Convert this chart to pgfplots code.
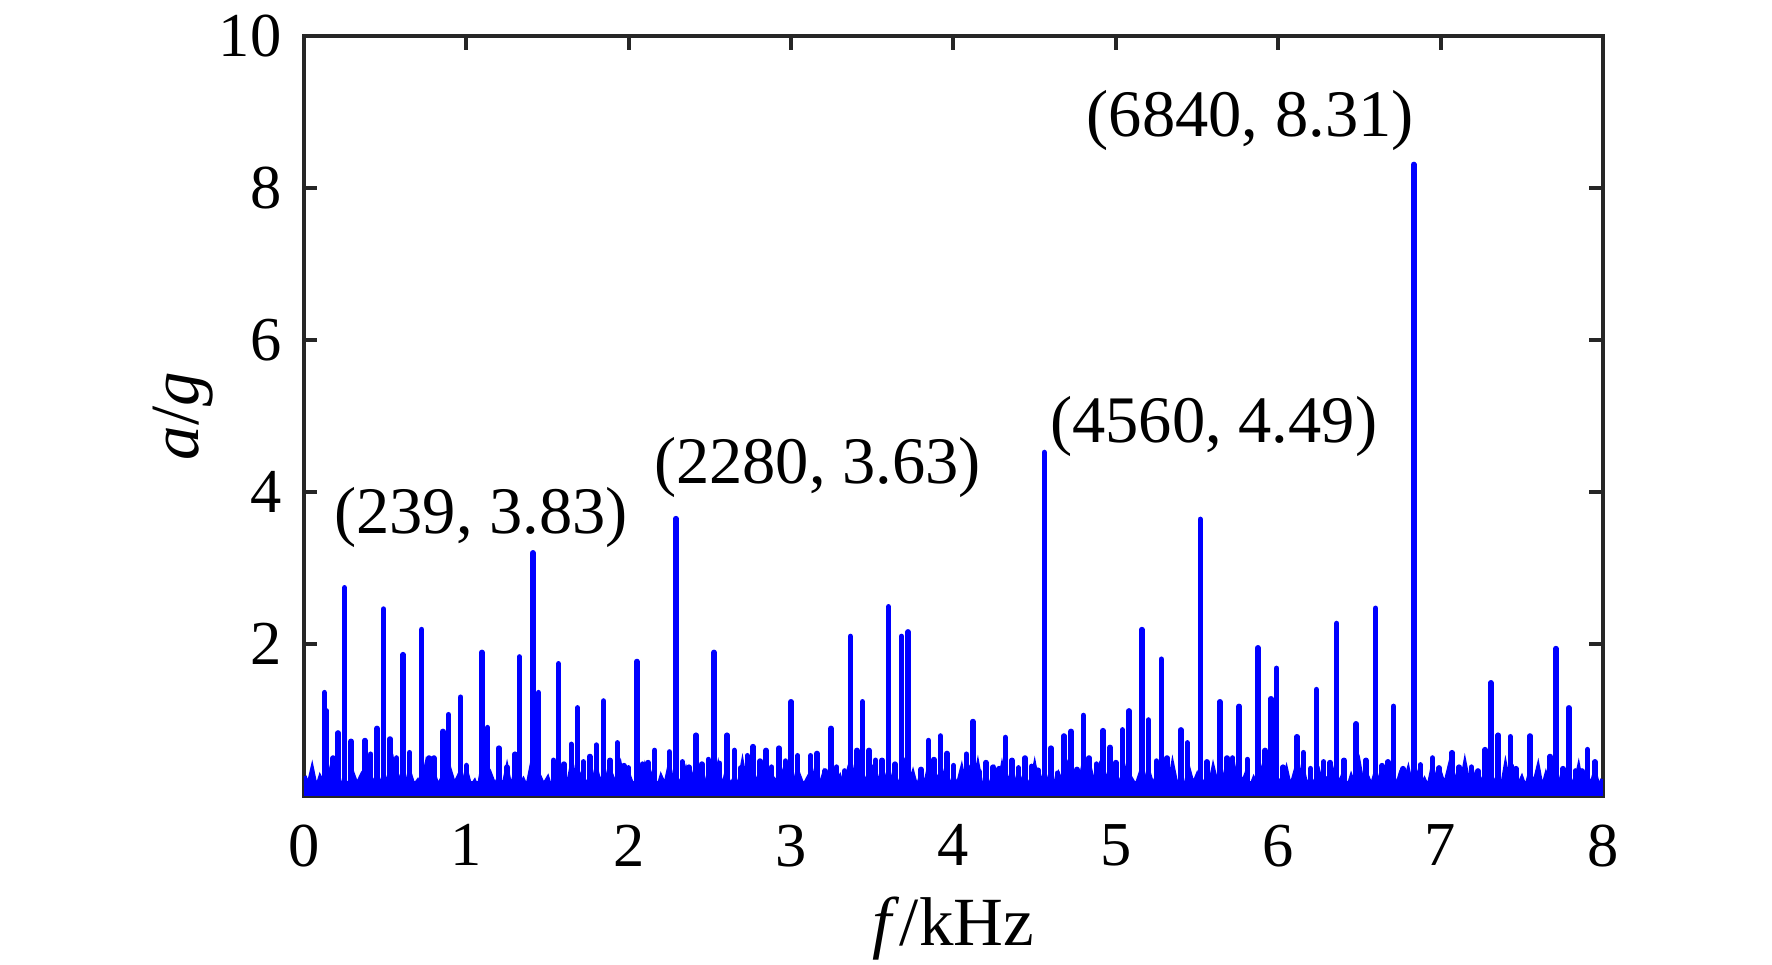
\documentclass[border=0pt]{standalone}
\usepackage{pgfplots}
\pgfplotsset{compat=1.18}
\usepackage{pgfplotstable}
\usepackage{fontspec}
\setmainfont{Liberation Serif}
\definecolor{axgray}{RGB}{38,38,38}

\pgfplotstableread[row sep=\\]{
y\\
0.26\\ 0.08\\ 0.31\\ 0.05\\ 0.22\\ 0.11\\ 0.29\\ 0.04\\ 0.34\\ 0.09\\ 0.19\\ 0.06\\ 0.27\\ 0.12\\ 0.23\\ 0.03\\ 0.32\\ 0.08\\ 0.25\\ 0.10\\
0.20\\ 0.05\\ 0.36\\ 0.09\\ 0.24\\ 0.04\\ 0.28\\ 0.11\\ 0.18\\ 0.07\\ 0.33\\ 0.03\\ 0.26\\ 0.10\\ 0.21\\ 0.06\\ 0.30\\ 0.12\\ 0.23\\ 0.05\\
0.29\\ 0.09\\ 0.17\\ 0.04\\ 0.35\\ 0.08\\ 0.25\\ 0.11\\ 0.22\\ 0.06\\ 0.31\\ 0.03\\ 0.27\\ 0.10\\ 0.19\\ 0.07\\ 0.34\\ 0.05\\ 0.24\\ 0.12\\
0.21\\ 0.04\\ 0.30\\ 0.08\\ 0.26\\ 0.10\\ 0.37\\ 0.05\\ 0.23\\ 0.09\\ 0.18\\ 0.06\\ 0.32\\ 0.11\\ 0.28\\ 0.03\\ 0.22\\ 0.08\\ 0.33\\ 0.07\\
0.25\\ 0.11\\ 0.19\\ 0.05\\ 0.31\\ 0.09\\ 0.27\\ 0.03\\ 0.22\\ 0.10\\ 0.35\\ 0.06\\ 0.20\\ 0.12\\ 0.29\\ 0.04\\ 0.24\\ 0.08\\ 0.30\\ 0.06\\
0.18\\ 0.09\\ 0.33\\ 0.04\\ 0.26\\ 0.11\\ 0.21\\ 0.07\\ 0.36\\ 0.05\\ 0.28\\ 0.10\\ 0.23\\ 0.03\\ 0.31\\ 0.08\\ 0.19\\ 0.12\\ 0.27\\ 0.05\\
0.32\\ 0.07\\ 0.24\\ 0.10\\ 0.20\\ 0.04\\ 0.29\\ 0.09\\ 0.25\\ 0.06\\ 0.34\\ 0.11\\ 0.22\\ 0.05\\ 0.27\\ 0.08\\ 0.37\\ 0.03\\ 0.21\\ 0.10\\
0.28\\ 0.05\\ 0.23\\ 0.12\\ 0.30\\ 0.07\\ 0.18\\ 0.04\\ 0.33\\ 0.09\\ 0.26\\ 0.06\\ 0.24\\ 0.11\\ 0.35\\ 0.03\\ 0.20\\ 0.08\\ 0.29\\ 0.06\\
0.22\\ 0.10\\ 0.31\\ 0.04\\ 0.27\\ 0.08\\ 0.35\\ 0.06\\ 0.19\\ 0.11\\ 0.28\\ 0.05\\ 0.33\\ 0.09\\ 0.23\\ 0.03\\ 0.26\\ 0.12\\ 0.18\\ 0.07\\
0.34\\ 0.06\\ 0.21\\ 0.09\\ 0.29\\ 0.03\\ 0.24\\ 0.11\\ 0.32\\ 0.05\\ 0.20\\ 0.08\\ 0.37\\ 0.10\\ 0.25\\ 0.04\\ 0.30\\ 0.07\\ 0.23\\ 0.12\\
0.27\\ 0.04\\ 0.33\\ 0.08\\ 0.19\\ 0.10\\ 0.26\\ 0.05\\ 0.30\\ 0.12\\ 0.22\\ 0.07\\ 0.28\\ 0.03\\ 0.35\\ 0.09\\ 0.21\\ 0.06\\ 0.31\\ 0.11\\
0.24\\ 0.08\\ 0.18\\ 0.05\\ 0.32\\ 0.10\\ 0.28\\ 0.04\\ 0.23\\ 0.07\\ 0.36\\ 0.11\\ 0.25\\ 0.06\\ 0.20\\ 0.09\\ 0.29\\ 0.03\\ 0.34\\ 0.08\\
0.19\\ 0.11\\ 0.30\\ 0.06\\ 0.25\\ 0.03\\ 0.33\\ 0.09\\ 0.21\\ 0.12\\ 0.27\\ 0.05\\ 0.18\\ 0.08\\ 0.31\\ 0.10\\ 0.26\\ 0.04\\ 0.22\\ 0.07\\
0.35\\ 0.05\\ 0.23\\ 0.10\\ 0.28\\ 0.08\\ 0.20\\ 0.03\\ 0.32\\ 0.06\\ 0.24\\ 0.11\\ 0.30\\ 0.04\\ 0.27\\ 0.09\\ 0.19\\ 0.07\\ 0.33\\ 0.12\\
0.26\\ 0.09\\ 0.31\\ 0.04\\ 0.22\\ 0.07\\ 0.37\\ 0.10\\ 0.25\\ 0.05\\ 0.18\\ 0.08\\ 0.29\\ 0.12\\ 0.23\\ 0.03\\ 0.34\\ 0.06\\ 0.28\\ 0.09\\
0.21\\ 0.06\\ 0.27\\ 0.11\\ 0.33\\ 0.04\\ 0.24\\ 0.08\\ 0.30\\ 0.05\\ 0.26\\ 0.10\\ 0.19\\ 0.07\\ 0.32\\ 0.03\\ 0.25\\ 0.09\\ 0.28\\ 0.06\\
0.22\\
}\noisetable

\pgfplotstableread{
f a
0.125 1.36
0.14 1.12
0.18 0.50
0.21 0.83
0.25 2.74
0.29 0.72
0.375 0.73
0.41 0.55
0.45 0.89
0.49 2.46
0.53 0.75
0.57 0.50
0.61 1.86
0.65 0.57
0.725 2.19
0.77 0.50
0.80 0.50
0.855 0.85
0.89 1.07
0.965 1.30
1.00 0.40
1.095 1.89
1.13 0.90
1.20 0.63
1.25 0.38
1.30 0.55
1.327 1.83
1.41 3.20
1.444 1.36
1.536 0.47
1.567 1.74
1.60 0.42
1.646 0.68
1.685 1.16
1.72 0.45
1.76 0.52
1.80 0.67
1.845 1.25
1.885 0.47
1.93 0.70
1.97 0.40
2.00 0.37
2.05 1.77
2.085 0.42
2.12 0.44
2.16 0.60
2.25 0.58
2.29 3.65
2.33 0.45
2.37 0.38
2.415 0.80
2.45 0.42
2.49 0.48
2.525 1.89
2.56 0.43
2.605 0.80
2.65 0.60
2.69 0.37
2.73 0.53
2.765 0.65
2.81 0.46
2.845 0.60
2.88 0.38
2.925 0.63
2.965 0.46
3.00 1.24
3.04 0.53
3.12 0.53
3.16 0.56
3.21 0.33
3.245 0.89
3.28 0.38
3.33 0.33
3.365 2.10
3.405 0.60
3.44 1.24
3.48 0.60
3.52 0.47
3.56 0.47
3.60 2.49
3.64 0.42
3.68 2.10
3.72 2.16
3.80 0.35
3.846 0.73
3.88 0.48
3.92 0.79
3.96 0.56
4.00 0.40
4.08 0.55
4.12 0.98
4.16 0.32
4.20 0.44
4.245 0.38
4.28 0.36
4.32 0.77
4.36 0.47
4.40 0.37
4.44 0.50
4.48 0.39
4.52 0.34
4.56 4.52
4.60 0.63
4.64 0.30
4.68 0.79
4.725 0.85
4.76 0.35
4.80 1.06
4.835 0.50
4.88 0.42
4.92 0.86
4.965 0.64
5.00 0.44
5.04 0.87
5.08 1.12
5.16 2.19
5.20 1.00
5.25 0.46
5.28 1.80
5.315 0.50
5.40 0.87
5.44 0.70
5.52 3.64
5.56 0.45
5.64 1.24
5.685 0.50
5.72 0.50
5.76 1.18
5.81 0.48
5.875 1.95
5.92 0.60
5.955 1.28
5.99 1.68
6.03 0.38
6.115 0.78
6.155 0.57
6.20 0.36
6.235 1.40
6.28 0.45
6.32 0.44
6.36 2.27
6.405 0.47
6.48 0.95
6.54 0.47
6.60 2.47
6.64 0.40
6.675 0.45
6.71 1.18
6.77 0.36
6.835 8.31
6.875 0.41
6.95 0.50
6.99 0.37
7.07 0.57
7.115 0.38
7.19 0.38
7.23 0.33
7.275 0.61
7.31 1.49
7.355 0.80
7.43 0.78
7.465 0.36
7.55 0.79
7.60 0.32
7.675 0.52
7.71 1.94
7.755 0.36
7.79 1.16
7.83 0.33
7.87 0.33
7.905 0.61
7.95 0.45
}\spiketable

\begin{document}
\begin{tikzpicture}[font=\fontsize{12.5}{15}\selectfont]
\path[use as bounding box] (-60.8pt,-33.8pt) rectangle (293.6pt,159.2pt);
\begin{axis}[
  at={(0pt,0pt)}, anchor=south west,
  scale only axis, width=259.8pt, height=152pt,
  xmin=0, xmax=8, ymin=0, ymax=10,
  xtick={0,1,...,8}, ytick={2,4,6,8,10},
  tick align=inside, major tick length=2.7pt,
  axis line style={axgray, line width=0.8pt},
  every tick/.style={axgray, line width=0.8pt},
  ticklabel style={font=\fontsize{12.5}{15}\selectfont, text=black},
  /pgf/number format/assume math mode=true,
  xticklabel shift=2.2pt, yticklabel shift=1pt,
  xlabel={\textit{f}/kHz}, ylabel={\textit{a}/\textit{g}},
  label style={font=\fontsize{13.8}{16}\selectfont},
  xlabel style={at={(axis description cs:0.5,-0.175)}, anchor=center},
  ylabel style={at={(axis description cs:-0.093,0.5)}, anchor=center},
  clip mode=individual,
]
\addplot[fill=blue, draw=none] coordinates {(0,0.2) (8,0.2)} \closedcycle;
\addplot[blue, line width=1.1pt, mark=none] table[x expr=\coordindex*0.025, y=y] {\noisetable};
\addplot[blue, line width=1.1pt, ycomb, mark=none, line cap=round] table[x=f, y=a] {\spiketable};
\begin{scope}[font=\fontsize{13.3}{16}\selectfont]
\node[anchor=base west, inner sep=0pt] at (axis cs:0.18,3.46) {(239, 3.83)};
\node[anchor=base west, inner sep=0pt] at (axis cs:2.15,4.11) {(2280, 3.63)};
\node[anchor=base west, inner sep=0pt] at (axis cs:4.59,4.65) {(4560, 4.49)};
\node[anchor=base west, inner sep=0pt] at (axis cs:4.815,8.68) {(6840, 8.31)};
\end{scope}
\end{axis}
\end{tikzpicture}
\end{document}
